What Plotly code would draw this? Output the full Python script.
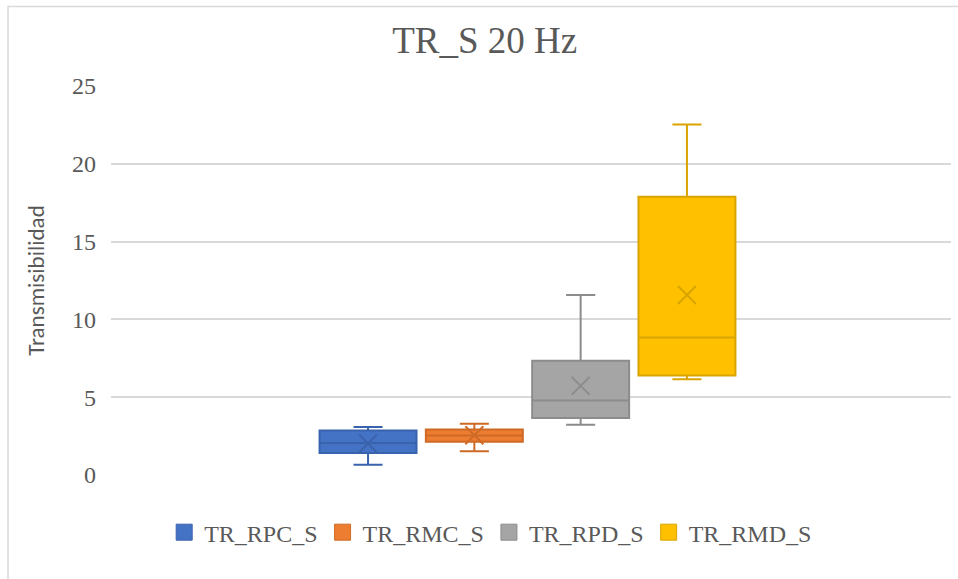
import plotly.graph_objects as go

# Box-and-whisker summary for each test series (transmissibility at 20 Hz)
series = ["TR_RPC_S", "TR_RMC_S", "TR_RPD_S", "TR_RMD_S"]
lower_whisker = [0.66, 1.53, 3.23, 6.16]
q1_values = [1.42, 2.13, 3.66, 6.39]
median_values = [2.05, 2.54, 4.79, 8.83]
q3_values = [2.86, 2.92, 7.34, 17.88]
upper_whisker = [3.09, 3.30, 11.57, 22.53]
mean_values = [2.02, 2.56, 5.73, 11.57]

fill_colors = ["#4472C4", "#ED7D31", "#A5A5A5", "#FFC000"]
line_colors = ["#3A63AD", "#CF6A26", "#8C8C8C", "#D9A400"]

y_ticks = [0, 5, 10, 15, 20, 25]

serif = "Liberation Serif"
text_gray = "#595959"
grid_gray = "#D9D9D9"

fig = go.Figure()

for name, lf, q1, med, q3, uf, fc, lc in zip(series, lower_whisker, q1_values,
                                              median_values, q3_values, upper_whisker,
                                              fill_colors, line_colors):
    fig.add_trace(go.Box(
        name=name, x=[name], q1=[q1], median=[med], q3=[q3],
        lowerfence=[lf], upperfence=[uf],
        width=0.912, whiskerwidth=0.3,
        fillcolor=fc, line=dict(color=lc, width=2),
        boxpoints=False, showlegend=False, hoverinfo="skip",
    ))

# Mean markers drawn as crosses on each box
for name, mv, lc in zip(series, mean_values, line_colors):
    fig.add_trace(go.Scatter(
        x=[name], y=[mv], mode="markers", showlegend=False,
        marker=dict(symbol="x-thin", size=18, line=dict(color=lc, width=2)),
        hoverinfo="skip",
    ))

# Legend entries as filled squares
for name, fc, lc in zip(series, fill_colors, line_colors):
    fig.add_trace(go.Scatter(
        x=[None], y=[None], mode="markers", name=name,
        marker=dict(symbol="square", size=16, color=fc, line=dict(color=lc, width=1)),
    ))

fig.update_layout(
    width=958, height=579,
    margin=dict(l=111, r=7, t=86, b=104),
    paper_bgcolor="white", plot_bgcolor="white",
    boxmode="overlay",
    title=dict(text="TR_S 20 Hz", x=0.506, xref="container", xanchor="center",
               y=0.931, yref="container", yanchor="middle",
               font=dict(family=serif, size=37, color=text_gray)),
    xaxis=dict(type="category", categoryorder="array", categoryarray=series,
               range=[-2.418, 5.484], showticklabels=False, showgrid=False,
               zeroline=False, showline=False, fixedrange=True),
    yaxis=dict(range=[0, 25], tickvals=y_ticks, ticktext=[str(v) for v in y_ticks],
               showgrid=True, gridcolor=grid_gray, gridwidth=1.5,
               zeroline=False, showline=False, ticks="",
               ticklabelstandoff=14,
               tickfont=dict(family=serif, size=24, color=text_gray),
               title=dict(text="Transmisibilidad", standoff=20,
                          font=dict(family="Carlito", size=23, color=text_gray))),
    legend=dict(orientation="h", x=0.452, xanchor="center", y=-0.148, yanchor="middle",
                font=dict(family=serif, size=24, color=text_gray),
                itemwidth=30, bgcolor="rgba(0,0,0,0)"),
    shapes=[dict(type="rect", xref="paper", yref="paper",
                 x0=-0.1226, x1=1.2, y0=-0.5, y1=1.2046,
                 line=dict(color=grid_gray, width=1.5), layer="below")],
)

fig.write_html("out.html")
